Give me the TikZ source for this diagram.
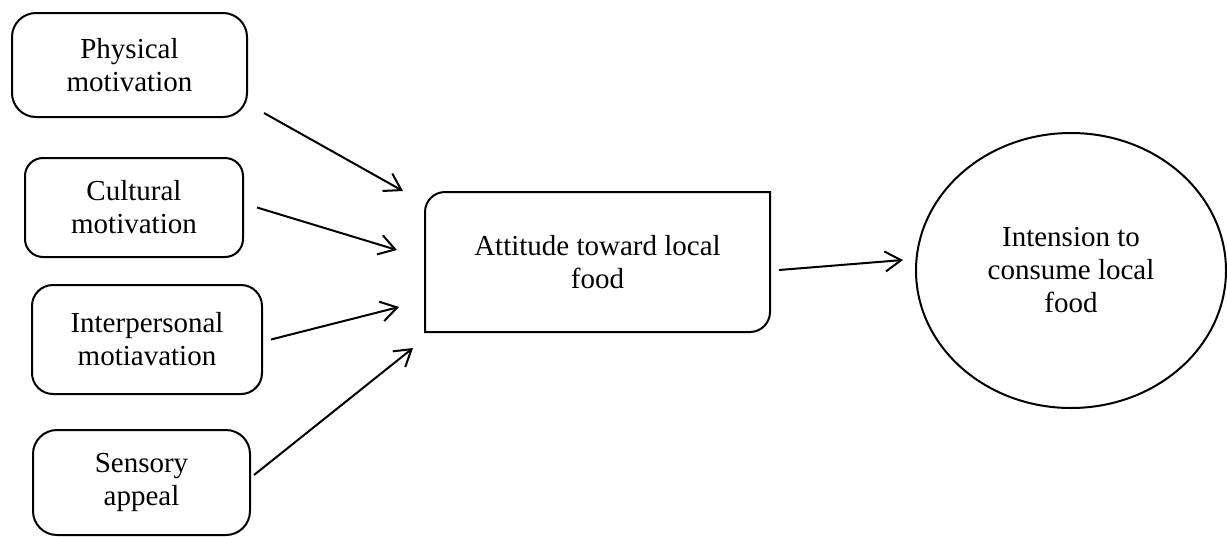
\documentclass[tikz,border=0pt]{standalone}
\usepackage{fontspec}
\setmainfont{Liberation Serif}
\usetikzlibrary{arrows.meta,shapes.geometric}

\begin{document}
\begin{tikzpicture}
  [x=0.5pt, y=0.5pt, line width=1pt,
   txt/.style = {align=center, inner sep=0pt, font=\fontsize{14.5pt}{16.5pt}\selectfont},
   factor/.style = {txt, draw, rounded corners=#1},
   arr/.style = {-{Straight Barb[length=8pt, width=10pt]}, line width=1pt}]
  \useasboundingbox (0,0) rectangle (1227,-536);
  % motivations
  \node[factor=12pt, minimum width=117.5pt, minimum height=52pt] (phys) at (129.5,-65) {Physical\\motivation};
  \node[factor=9pt, minimum width=109pt, minimum height=49.5pt] (cult) at (134,-207.5) {Cultural\\motivation};
  \node[factor=10.5pt, minimum width=115pt, minimum height=54.5pt] (inter) at (147,-339.5) {Interpersonal\\motiavation};
  \node[factor=12pt, minimum width=108.5pt, minimum height=52.5pt] (sens) at (141.5,-482.5) {Sensory\\appeal};
  % attitude
  \node[txt, minimum width=171.5pt, minimum height=69pt] (att) at (597.5,-262) {Attitude toward local\\food};
  \draw (att.south west) -- ([yshift=-10pt]att.north west) arc[start angle=180, end angle=90, radius=10pt]
    -- (att.north east) -- ([yshift=10pt]att.south east) arc[start angle=0, end angle=-90, radius=10pt] -- cycle;
  % intention
  \node[txt, draw, ellipse, minimum width=155pt, minimum height=137.5pt] (intent) at (1071,-270.5) {Intension to\\consume local\\food};
  % arrows
  \draw[arr] ([shift={(16,5)}]phys.south east) -- ([shift={(-22,1)}]att.north west);
  \draw[arr] ([shift={(13,0)}]cult.east) -- ([shift={(-28,12)}]att.west);
  \draw[arr] ([shift={(8,0)}]inter.east) -- ([shift={(-26,-45)}]att.west);
  \draw[arr] ([shift={(3,7.5)}]sens.east) -- ([shift={(-12,-16)}]att.south west);
  \draw[arr] ([shift={(9,-8)}]att.east) -- ([shift={(-12,10.5)}]intent.west);
\end{tikzpicture}
\end{document}
